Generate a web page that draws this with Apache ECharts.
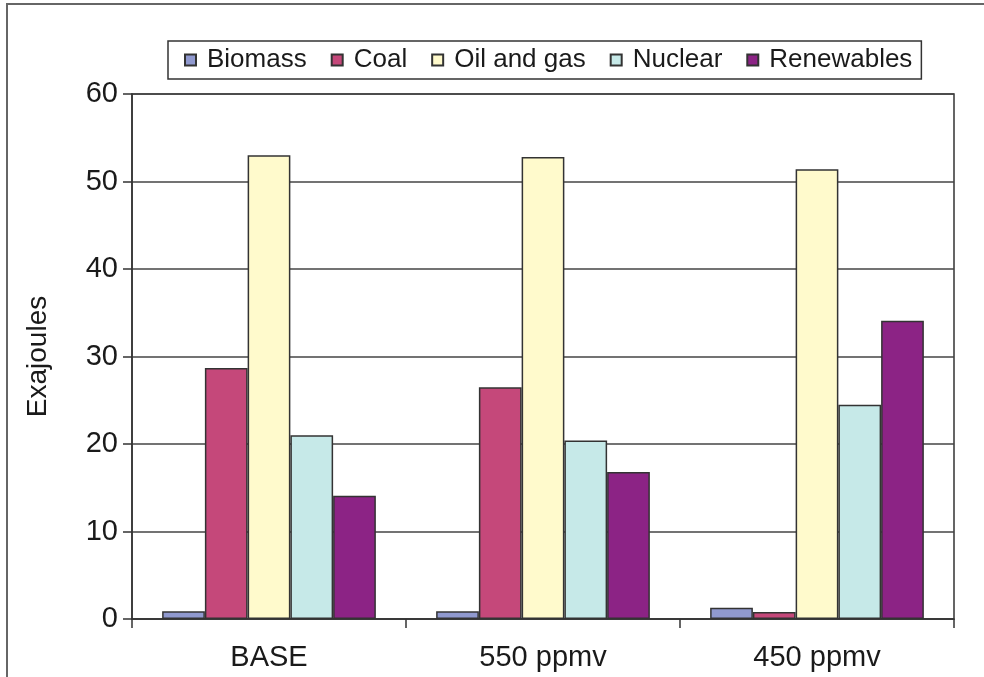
<!DOCTYPE html>
<html>
<head>
<meta charset="utf-8">
<script src="https://cdn.jsdelivr.net/npm/echarts@6/dist/echarts.min.js"></script>
<style>
  html, body { margin: 0; padding: 0; background: #fff; }
  #chart { width: 984px; height: 677px; }
</style>
</head>
<body>
<div id="chart"></div>
<script>
// Energy supply by source under three scenarios (Exajoules)
const categories = ['BASE', '550 ppmv', '450 ppmv'];
const biomass = [0.9, 0.9, 1.3];
const coal = [28.7, 26.5, 0.8];
const oilAndGas = [53.0, 52.8, 51.4];
const nuclear = [21.0, 20.4, 24.5];
const renewables = [14.1, 16.8, 34.1];
const seriesNames = ['Biomass', 'Coal', 'Oil and gas', 'Nuclear', 'Renewables'];
const yTicks = { min: 0, max: 60, step: 10 };

const FONT = '"Liberation Sans", Arial, sans-serif';
const TEXT = '#1a1a1a';
const LINE = '#333';
const colors = ['#9099CF', '#C5487A', '#FFFACC', '#C6E9E8', '#8C2385'];
const values = [biomass, coal, oilAndGas, nuclear, renewables];

const chart = echarts.init(document.getElementById('chart'), null, { renderer: 'canvas' });

chart.setOption({
  animation: false,
  backgroundColor: '#fff',
  textStyle: { fontFamily: FONT },
  graphic: [{
    type: 'rect',
    shape: { x: 7, y: 4, width: 1000, height: 700 },
    style: { fill: 'none', stroke: '#666', lineWidth: 2 },
    silent: true
  }],
  legend: {
    data: seriesNames,
    left: 168,
    top: 41,
    padding: [6, 9, 6, 16],
    itemGap: 24,
    itemWidth: 11,
    itemHeight: 11,
    icon: 'rect',
    borderColor: LINE,
    borderWidth: 1.5,
    textStyle: { fontFamily: FONT, fontSize: 26, color: TEXT, padding: [0, 0, 0, 6] }
  },
  grid: {
    left: 132,
    right: 30,
    top: 94,
    bottom: 58,
    show: true,
    borderColor: LINE,
    borderWidth: 1.5,
    containLabel: false
  },
  xAxis: {
    type: 'category',
    data: categories,
    axisLine: { lineStyle: { color: LINE, width: 1.5 } },
    axisTick: { show: true, alignWithLabel: false, length: 9, lineStyle: { color: LINE, width: 1.5 } },
    axisLabel: { fontFamily: FONT, fontSize: 29, color: TEXT, margin: 24 }
  },
  yAxis: {
    type: 'value',
    min: yTicks.min,
    max: yTicks.max,
    interval: yTicks.step,
    name: 'Exajoules',
    nameLocation: 'middle',
    nameRotate: 90,
    nameGap: 80,
    nameTextStyle: { fontFamily: FONT, fontSize: 28, color: TEXT },
    axisLine: { show: true, lineStyle: { color: LINE, width: 1.5 } },
    axisTick: { show: true, length: 9, lineStyle: { color: LINE, width: 1.5 } },
    axisLabel: { fontFamily: FONT, fontSize: 29, color: TEXT, margin: 14 },
    splitLine: { show: true, lineStyle: { color: '#444', width: 1.5 } }
  },
  series: seriesNames.map((name, i) => ({
    name: name,
    type: 'bar',
    data: values[i],
    barGap: '0%',
    barCategoryGap: '22%',
    itemStyle: { color: colors[i], borderColor: LINE, borderWidth: 1.5 },
    emphasis: { disabled: true }
  }))
});
</script>
</body>
</html>
